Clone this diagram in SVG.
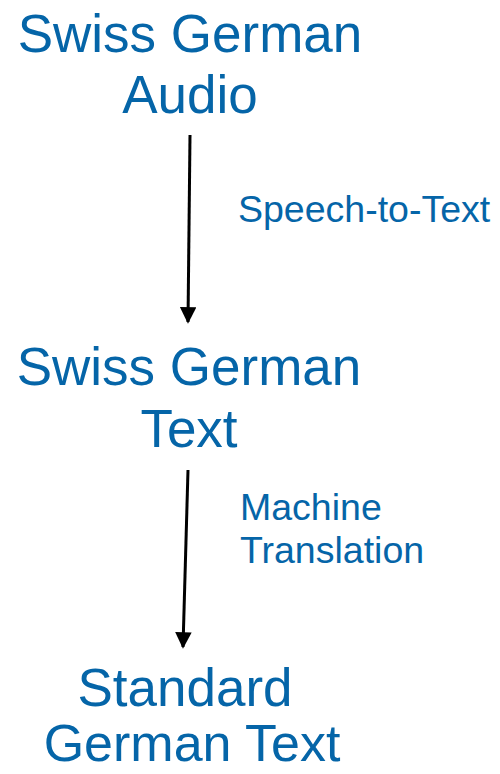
<svg xmlns="http://www.w3.org/2000/svg" width="500" height="774" viewBox="0 0 500 774">
<style>
.n{font-family:"Liberation Sans",Arial,sans-serif;font-size:53px;fill:#0565a8;text-anchor:middle}
.l{font-family:"Liberation Sans",Arial,sans-serif;font-size:37.5px;fill:#0565a8}
.c{stroke:#000;stroke-width:3;fill:none}
</style>
<defs>
<marker id="ah" viewBox="0 0 10 10" refX="9" refY="5" markerWidth="6.5" markerHeight="5.5" markerUnits="strokeWidth" orient="auto">
<path d="M0,0 L10,5 L0,10 Z" fill="#000"/>
</marker>
</defs>
<rect width="500" height="774" fill="#fff"/>
<g id="node-audio"><text class="n" x="190" y="52">Swiss German</text><text class="n" x="190" y="113">Audio</text></g>
<g id="node-sgtext"><text class="n" x="189" y="385">Swiss German</text><text class="n" x="189" y="447">Text</text></g>
<g id="node-stdtext"><text class="n" x="185" y="706">Standard</text><text class="n" x="192" y="761" style="font-size:52px">German Text</text></g>
<g id="connectors">
<line class="c" x1="190" y1="135" x2="188" y2="322" marker-end="url(#ah)"/>
<line class="c" x1="188" y1="470" x2="183" y2="647" marker-end="url(#ah)"/>
<text class="l" x="238" y="222">Speech-to-Text</text>
<text class="l" x="240" y="520">Machine</text>
<text class="l" x="240" y="563">Translation</text>
</g>
</svg>
